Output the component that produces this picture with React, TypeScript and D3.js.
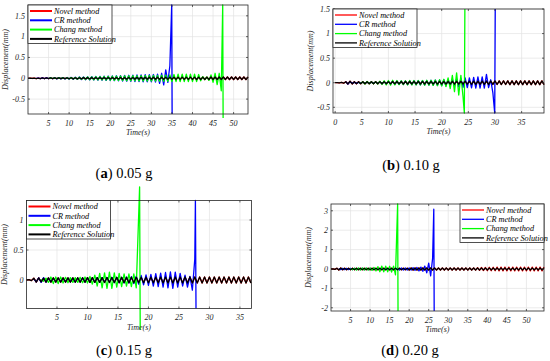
import React from 'react';
import * as d3 from 'd3';

// Displacement peaks (mm), one value per half cycle.
// Each series starts at its own time and advances by the panel step.

const seriesNames = ['Novel method', 'CR method', 'Chang method', 'Reference Solution'];
const seriesColors = ['#ff0000', '#0000ff', '#00ff00', '#000000'];
const captionTags = ['a', 'b', 'c', 'd'];
const captionTexts = ['0.05 g', '0.10 g', '0.15 g', '0.20 g'];

// (a) 0.05 g
const stepA = 0.5;
const refA = [
  0, 0.004, -0.005, 0.006, -0.006, 0.006, -0.007, 0.007, -0.007, 0.008, -0.008, 0.008, -0.008, 0.009, -0.009, 0.009, -0.009, 0.01, -0.01, 0.01,
  -0.012, 0.012, -0.013, 0.013, -0.014, 0.014, -0.014, 0.015, -0.015, 0.015, -0.016, 0.016, -0.016, 0.017, -0.017, 0.017, -0.018, 0.018, -0.018, 0.018,
  -0.019, 0.019, -0.02, 0.02, -0.02, 0.021, -0.021, 0.021, -0.022, 0.022, -0.022, 0.022, -0.023, 0.023, -0.023, 0.023, -0.024, 0.024, -0.024, 0.024,
  -0.025, 0.025, -0.025, 0.026, -0.026, 0.026, -0.026, 0.027, -0.027, 0.027, -0.027, 0.027, -0.028, 0.028, -0.028, 0.028, -0.028, 0.028, -0.028, 0.028,
  -0.028, 0.028, -0.029, 0.029, -0.029, 0.029, -0.029, 0.029, -0.03, 0.03, -0.03, 0.03, -0.03, 0.03, -0.03, 0.03, -0.03, 0.03, -0.03, 0.03,
  -0.03, 0.03, -0.03, 0.03, -0.03, 0.03, -0.03, 0.03,
];
const novelA = refA;
const crStartA = 2;
const crA = [
  0, 0.005, -0.006, 0.008, -0.008, 0.01, -0.01, 0.012, -0.012, 0.014, -0.014, 0.015, -0.015, 0.016, -0.017, 0.018,
  -0.02, 0.022, -0.024, 0.026, -0.027, 0.03, -0.03, 0.032, -0.034, 0.036, -0.038, 0.04, -0.042, 0.044, -0.045, 0.046, -0.048, 0.05, -0.05, 0.052,
  -0.055, 0.056, -0.058, 0.06, -0.062, 0.064, -0.066, 0.068, -0.07, 0.072, -0.074, 0.076, -0.078, 0.08, -0.08, 0.082, -0.084, 0.085, -0.086, 0.088,
  -0.088, 0.09, -0.09, 0.1, -0.12, 0.12, -0.16, 0.2, -0.1, 0.3,
];
const crTailA: [number, number][] = [[34.95, 1.76], [35.05, -0.86]];
const chStartA = 5;
const chA = [
  0, 0.004, -0.005, 0.006, -0.007, 0.008, -0.009, 0.01, -0.011, 0.012,
  -0.014, 0.016, -0.018, 0.02, -0.022, 0.024, -0.026, 0.028, -0.03, 0.032, -0.034, 0.035, -0.036, 0.038, -0.04, 0.04, -0.042, 0.044, -0.045, 0.046,
  -0.048, 0.05, -0.05, 0.052, -0.054, 0.055, -0.056, 0.058, -0.06, 0.06, -0.062, 0.062, -0.062, 0.064, -0.064, 0.064, -0.065, 0.065, -0.066, 0.066,
  -0.066, 0.068, -0.068, 0.07, -0.07, 0.072, -0.072, 0.075, -0.075, 0.08, -0.08, 0.09, -0.08, 0.1, -0.08, 0.1, -0.08, 0.1, -0.08, 0.1,
  -0.08, 0.1, -0.08, 0.09, -0.06, 0.04, -0.03, 0.03, -0.05, 0.08, -0.1, 0.12, -0.15, 0.12, -0.3,
];
const chTailA: [number, number][] = [[47.35, 1.76], [47.45, -0.955]];

// (b) 0.10 g
const stepB = 0.4;
const refB = [
  0, 0.002, -0.003, 0.005, -0.01, 0.02, -0.025, 0.03, -0.025, 0.02,
  -0.02, 0.02, -0.02, 0.02, -0.02, 0.02, -0.02, 0.02, -0.02, 0.02,
  -0.022, 0.022, -0.022, 0.022, -0.022, 0.022, -0.024, 0.024, -0.024, 0.024,
  -0.024, 0.025, -0.025, 0.025, -0.025, 0.025, -0.025, 0.026, -0.026, 0.026,
  -0.026, 0.026, -0.026, 0.027, -0.027, 0.027, -0.027, 0.028, -0.028, 0.028,
  -0.028, 0.028, -0.029, 0.029, -0.029, 0.03, -0.03, 0.03, -0.03, 0.03,
  -0.031, 0.031, -0.031, 0.032, -0.032, 0.032, -0.033, 0.033, -0.033, 0.034,
  -0.034, 0.034, -0.035, 0.035, -0.035, 0.036, -0.036, 0.036, -0.037, 0.037,
  -0.037, 0.038, -0.038, 0.038, -0.038, 0.038, -0.038, 0.038, -0.038, 0.038,
  -0.038, 0.038, -0.038, 0.038, -0.038, 0.038, -0.038, 0.038, -0.038,
];
const novelB = refB;
const crStartB = 2;
const crB = [
  0.02, -0.025, 0.02, -0.01, 0.008, -0.008, 0.008, -0.008, 0.01, -0.01,
  0.01, -0.012, 0.012, -0.014, 0.015, -0.016, 0.018, -0.02, 0.022, -0.025,
  0.028, -0.03, 0.03, -0.032, 0.032, -0.034, 0.034, -0.036, 0.036, -0.038,
  0.038, -0.04, 0.04, -0.042, 0.042, -0.044, 0.044, -0.046, 0.046, -0.048,
  0.05, -0.052, 0.054, -0.056, 0.058, -0.06, 0.062, -0.065, 0.068, -0.07,
  0.072, -0.075, 0.08, -0.085, 0.09, -0.095, 0.1, -0.1, 0.1, -0.105,
  0.11, -0.11, 0.12, -0.11, 0.12, -0.11, 0.17, -0.1, 0.06, -0.2,
];
const crTailB: [number, number][] = [[29.95, -0.616], [30.05, 1.5]];
const chStartB = 4.4;
const chB = [
  0.01, -0.015, 0.02, -0.025, 0.025, -0.02, 0.02, -0.02, 0.02, -0.025,
  0.03, -0.035, 0.04, -0.045, 0.045, -0.05, 0.05, -0.045, 0.045, -0.04,
  0.04, -0.04, 0.04, -0.045, 0.045, -0.045, 0.045, -0.045, 0.045, -0.045,
  0.045, -0.05, 0.05, -0.05, 0.05, -0.055, 0.055, -0.06, 0.06, -0.065,
  0.07, -0.08, 0.1, -0.12, 0.15, -0.18, 0.2, -0.25, 0.15, -0.28,
];
const chTailB: [number, number][] = [[24.25, -0.616], [24.35, 1.5]];

// (c) 0.15 g
const stepC = 0.4;
const refC = [
  0, 0.005, -0.01, 0.03, -0.035, 0.035, -0.03, 0.03, -0.035, 0.035,
  -0.035, 0.035, -0.035, 0.035, -0.035, 0.035, -0.035, 0.035, -0.035, 0.035,
  -0.038, 0.038, -0.038, 0.038, -0.038, 0.04, -0.04, 0.04, -0.04, 0.04,
  -0.04, 0.04, -0.042, 0.042, -0.042, 0.042, -0.042, 0.044, -0.044, 0.044,
  -0.044, 0.044, -0.045, 0.045, -0.045, 0.045, -0.045, 0.046, -0.046, 0.046,
  -0.046, 0.047, -0.047, 0.047, -0.047, 0.048, -0.048, 0.048, -0.048, 0.048,
  -0.05, 0.05, -0.05, 0.05, -0.05, 0.05, -0.05, 0.05, -0.05, 0.05,
  -0.05, 0.05, -0.05, 0.05, -0.05, 0.05, -0.05, 0.05, -0.05, 0.05,
  -0.05, 0.05, -0.05, 0.05, -0.05, 0.05, -0.05, 0.05, -0.05, 0.05,
  -0.05, 0.05, -0.05,
];
const novelC = refC;
const crStartC = 1.2;
const crC = [
  0.02, -0.03, 0.035, -0.04, 0.04, -0.035, 0.03, -0.03, 0.03, -0.03,
  0.03, -0.03, 0.03, -0.03, 0.032, -0.032, 0.032, -0.034, 0.034, -0.034,
  0.035, -0.035, 0.036, -0.036, 0.038, -0.038, 0.04, -0.04, 0.04, -0.04,
  0.042, -0.042, 0.044, -0.044, 0.045, -0.045, 0.046, -0.048, 0.05, -0.05,
  0.055, -0.06, 0.065, -0.07, 0.075, -0.08, 0.085, -0.09, 0.095, -0.1,
  0.105, -0.11, 0.115, -0.12, 0.125, -0.13, 0.135, -0.14, 0.13, -0.12,
  0.11, -0.1, 0.08, -0.12, 0.06, -0.17, 0.35,
];
const crTailC: [number, number][] = [[27.7, 1.325], [27.8, -0.475]];
const chStartC = 2.4;
const chC = [
  0.01, -0.02, 0.03, -0.04, 0.05, -0.06, 0.05, -0.06, 0.05, -0.05,
  0.045, -0.045, 0.04, -0.04, 0.04, -0.04, 0.045, -0.045, 0.05, -0.05,
  0.06, -0.07, 0.08, -0.1, 0.11, -0.13, 0.12, -0.14, 0.13, -0.14,
  0.12, -0.12, 0.11, -0.11, 0.1, -0.1, 0.1, -0.11, 0.1, -0.13,
];
const chTailC: [number, number][] = [[18.55, 1.55], [18.65, -0.83]];

// (d) 0.20 g
const stepD = 0.5;
const refD = [
  0, 0.01, -0.02, 0.04, -0.05, 0.05, -0.04, 0.04, -0.04, 0.04, -0.04, 0.04, -0.04, 0.04, -0.04, 0.04, -0.04, 0.04, -0.04, 0.04,
  -0.045, 0.045, -0.045, 0.045, -0.045, 0.045, -0.045, 0.045, -0.045, 0.045, -0.045, 0.045, -0.045, 0.045, -0.045, 0.045, -0.045, 0.045, -0.045, 0.045,
  -0.05, 0.05, -0.05, 0.05, -0.05, 0.05, -0.05, 0.05, -0.05, 0.05, -0.05, 0.05, -0.05, 0.05, -0.05, 0.05, -0.05, 0.05, -0.05, 0.05,
  -0.05, 0.05, -0.05, 0.05, -0.05, 0.05, -0.05, 0.05, -0.05, 0.05, -0.05, 0.05, -0.05, 0.05, -0.05, 0.05, -0.05, 0.05, -0.05, 0.05,
  -0.055, 0.055, -0.055, 0.055, -0.055, 0.055, -0.055, 0.055, -0.055, 0.055, -0.055, 0.055, -0.055, 0.055, -0.055, 0.055, -0.055, 0.055, -0.055, 0.055,
  -0.055, 0.055, -0.055, 0.055, -0.055, 0.055, -0.055, 0.055, -0.055, 0.055,
];
// novel solution follows the reference, then drifts slightly larger after 37 s
const novelTailD = [
  -0.06, 0.07, -0.07, 0.08, -0.08, 0.08, -0.09, 0.09, -0.09, 0.09, -0.09, 0.1, -0.1, 0.1, -0.1, 0.1, -0.1, 0.1,
  -0.1, 0.1, -0.1, 0.1, -0.1, 0.1, -0.1, 0.1, -0.1, 0.1, -0.1, 0.1, -0.1, 0.1, -0.1, 0.1, -0.1, 0.1,
];
const novelD = refD.slice(0, 74).concat(novelTailD);
const crStartD = 2;
const crD = [
  0.02, -0.03, 0.03, -0.03, 0.03, -0.03, 0.03, -0.035, 0.035, -0.035, 0.035, -0.035, 0.04, -0.04, 0.04, -0.04,
  0.04, -0.04, 0.04, -0.045, 0.045, -0.045, 0.045, -0.045, 0.045, -0.05, 0.05, -0.05, 0.05, -0.05, 0.05, -0.05, 0.05, -0.05, 0.05, -0.05,
  0.055, -0.06, 0.065, -0.07, 0.08, -0.1, 0.1, -0.12, 0.15, -0.2, 0.3, -0.35, 0.55,
];
const crTailD: [number, number][] = [[26.3, 3.08], [26.4, -2.165]];
const chStartD = 5;
const chD = [
  0.03, -0.04, 0.045, -0.05, 0.05, -0.05, 0.05, -0.05, 0.05, -0.05,
  0.06, -0.07, 0.08, -0.1, 0.12, -0.14, 0.15, -0.15, 0.15, -0.15,
  0.14, -0.16, 0.15, -0.3,
];
const chTailD: [number, number][] = [[17.05, 3.35], [17.15, -2.165]];

const xTicksA = [5, 10, 15, 20, 25, 30, 35, 40, 45, 50];
const yTicksA = [-0.5, 0, 0.5, 1, 1.5];
const xTicksB = [0, 5, 10, 15, 20, 25, 30, 35];
const yTicksB = [-0.5, 0, 0.5, 1, 1.5];
const xTicksC = [5, 10, 15, 20, 25, 30, 35];
const yTicksC = [0, 0.5, 1];
const xTicksD = [5, 10, 15, 20, 25, 30, 35, 40, 45, 50];
const yTicksD = [-2, -1, 0, 1, 2, 3];

type Pt = [number, number];

function toPoints(start: number, step: number, values: number[], tail: Pt[] = []): Pt[] {
  const pts: Pt[] = values.map((v, i) => [start + i * step, v]);
  return pts.concat(tail);
}

const panels = [
  {
    box: [28, 5, 248, 114], xDom: [0, 53.5], yDom: [-0.858, 1.76], legend: 'nw', cap: [124, 178], legLine: 2,
    xTicks: xTicksA, yTicks: yTicksA,
    series: [
      toPoints(0, stepA, novelA),
      toPoints(crStartA, stepA, crA, crTailA),
      toPoints(chStartA, stepA, chA, chTailA),
      toPoints(0, stepA, refA),
    ],
  },
  {
    box: [333, 9, 544, 113], xDom: [-0.4, 39.2], yDom: [-0.616, 1.5], legend: 'nw', cap: [411, 170], legLine: 1.3,
    xTicks: xTicksB, yTicks: yTicksB,
    series: [
      toPoints(0, stepB, novelB),
      toPoints(crStartB, stepB, crB, crTailB),
      toPoints(chStartB, stepB, chB, chTailB),
      toPoints(0, stepB, refB),
    ],
  },
  {
    box: [26.5, 200.5, 251.5, 308.5], xDom: [0, 36.9], yDom: [-0.475, 1.325], legend: 'nw', cap: [124, 355], legLine: 2,
    xTicks: xTicksC, yTicks: yTicksC,
    series: [
      toPoints(0, stepC, novelC),
      toPoints(crStartC, stepC, crC, crTailC),
      toPoints(chStartC, stepC, chC, chTailC),
      toPoints(0, stepC, refC),
    ],
  },
  {
    box: [331, 204, 544, 311], xDom: [0, 54.5], yDom: [-2.165, 3.35], legend: 'ne', cap: [410, 355], legLine: 1.3,
    xTicks: xTicksD, yTicks: yTicksD,
    series: [
      toPoints(0, stepD, novelD),
      toPoints(crStartD, stepD, crD, crTailD),
      toPoints(chStartD, stepD, chD, chTailD),
      toPoints(0, stepD, refD),
    ],
  },
];

const font = '"Liberation Serif", "Times New Roman", serif';

function Panel({ cfg, idx }: { cfg: any; idx: number }) {
  const [l, t, r, b] = cfg.box;
  const x = d3.scaleLinear().domain(cfg.xDom).range([l, r]);
  const y = d3.scaleLinear().domain(cfg.yDom).range([b, t]);
  const line = d3.line<Pt>().x(d => x(d[0])).y(d => y(d[1]));

  const legW = 84;
  const legH = 38.5;
  const legX = cfg.legend === 'ne' ? r - legW : l;
  const legY = t;

  return (
    <g>
      <rect x={l} y={t} width={r - l} height={b - t} fill="#fff" />
      {cfg.xTicks.map((v: number) => (
        <line key={'gx' + v} x1={x(v)} x2={x(v)} y1={t} y2={b} stroke="#e3e3e3" strokeWidth={0.7} />
      ))}
      {cfg.yTicks.map((v: number) => (
        <line key={'gy' + v} x1={l} x2={r} y1={y(v)} y2={y(v)} stroke="#e3e3e3" strokeWidth={0.7} />
      ))}
      {cfg.series.map((pts: Pt[], i: number) => (
        <path key={i} d={line(pts) || ''} fill="none" stroke={seriesColors[i]}
          strokeWidth={1.3} strokeLinejoin="round" />
      ))}
      <rect x={l} y={t} width={r - l} height={b - t} fill="none" stroke="#262626" strokeWidth={0.8} />
      {cfg.xTicks.map((v: number) => (
        <g key={'tx' + v}>
          <line x1={x(v)} x2={x(v)} y1={b} y2={b - 2} stroke="#262626" strokeWidth={0.7} />
          <line x1={x(v)} x2={x(v)} y1={t} y2={t + 2} stroke="#262626" strokeWidth={0.7} />
          <text x={x(v)} y={b + 11.5} textAnchor="middle" fontSize={8} fontStyle="italic"
            fontFamily={font} fill="#262626">{String(v)}</text>
        </g>
      ))}
      {cfg.yTicks.map((v: number) => (
        <g key={'ty' + v}>
          <line x1={l} x2={l + 2} y1={y(v)} y2={y(v)} stroke="#262626" strokeWidth={0.7} />
          <line x1={r} x2={r - 2} y1={y(v)} y2={y(v)} stroke="#262626" strokeWidth={0.7} />
          <text x={l - 3} y={y(v) + 2.8} textAnchor="end" fontSize={8} fontStyle="italic"
            fontFamily={font} fill="#262626">{String(v)}</text>
        </g>
      ))}
      <text x={(l + r) / 2} y={b + 21} textAnchor="middle" fontSize={8} fontStyle="italic"
        fontFamily={font} fill="#262626">Time(s)</text>
      <text transform={`translate(${l - 20},${(t + b) / 2}) rotate(-90)`} textAnchor="middle"
        fontSize={8} fontStyle="italic" fontFamily={font} fill="#262626">Displacement(mm)</text>

      <rect x={legX} y={legY} width={legW} height={legH} fill="#fff" stroke="#262626" strokeWidth={0.8} />
      {seriesNames.map((name, i) => {
        const ly = legY + 6 + i * 9.3;
        return (
          <g key={name}>
            <line x1={legX + 2} x2={legX + 24} y1={ly} y2={ly} stroke={seriesColors[i]} strokeWidth={cfg.legLine} />
            <text x={legX + 26} y={ly + 2.8} fontSize={8.2} fontStyle="italic" fontFamily={font} fill="#000">
              {name}
            </text>
          </g>
        );
      })}

      <text x={cfg.cap[0]} y={cfg.cap[1]} textAnchor="middle" fontSize={14.5} fontFamily={font} fill="#000">
        <tspan>(</tspan>
        <tspan fontWeight="bold">{captionTags[idx]}</tspan>
        <tspan>) {captionTexts[idx]}</tspan>
      </text>
    </g>
  );
}

export default function App() {
  return (
    <svg width={550} height={361} viewBox="0 0 550 361"
      style={{ position: 'absolute', left: 0, top: 0, background: '#fff' }}>
      <rect width={550} height={361} fill="#fff" />
      {panels.map((p, i) => <Panel key={i} cfg={p} idx={i} />)}
    </svg>
  );
}
